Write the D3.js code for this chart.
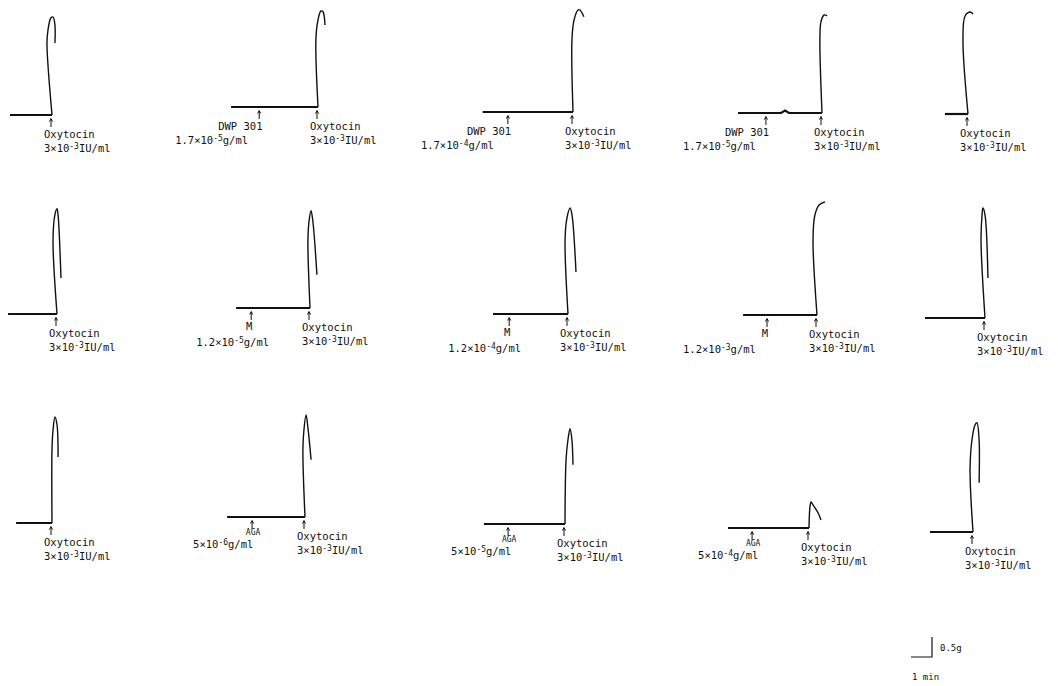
<!DOCTYPE html>
<html>
<head>
<meta charset="utf-8">
<script src="https://cdn.jsdelivr.net/npm/d3@7"></script>
<style>
  body { margin: 0; background: #fff; }
  text, tspan { font-family: "DejaVu Sans Mono", "Liberation Mono", monospace; fill: #111; }
</style>
</head>
<body>
<div id="chart"></div>
<script>
// trace data: time in min relative to oxytocin, tension in g above baseline
const baseT = [
  [-2.0, 0], [-4.14, 0], [-4.3, 0], [-4.0, -1.95, -1.76, -1.57, 0], [-1.1, 0],
  [-2.33, 0], [-3.52, 0], [-3.57, 0], [-3.52, 0], [-2.86, 0],
  [-1.71, 0], [-3.71, 0], [-3.86, 0], [-3.86, 0], [-2.05, 0]
];
const baseG = [
  [0, 0], [0, 0], [0, 0], [0, 0, 0.06, 0, 0], [0, 0],
  [0, 0], [0, 0], [0, 0], [0, 0], [0, 0],
  [0, 0], [0, 0], [0, 0], [0, 0], [0, 0]
];
const respT = [
  [0, -0.24, -0.19, -0.05, 0.05, 0.14, 0.14],
  [0, -0.1, 0, 0.14, 0.24, 0.33],
  [0, -0.05, 0.05, 0.24, 0.33, 0.52],
  [0, -0.1, -0.05, 0.1, 0.24],
  [0, -0.24, -0.14, 0.1, 0.24],
  [0, -0.19, -0.1, 0, 0.05, 0.19],
  [0, -0.1, -0.05, 0.05, 0.14, 0.33],
  [0, -0.14, -0.05, 0.1, 0.19, 0.38],
  [0, -0.19, -0.1, 0.1, 0.38],
  [0, -0.19, -0.14, -0.1, 0, 0.14],
  [0, 0, 0.05, 0.14, 0.24, 0.29],
  [0, -0.1, -0.05, 0.05, 0.14, 0.29],
  [0, 0.05, 0.14, 0.24, 0.33, 0.38],
  [0, 0.05, 0.1, 0.19, 0.43, 0.57],
  [0, -0.14, -0.05, 0.1, 0.19, 0.29, 0.29]
];
const respG = [
  [0, 1.8, 2.13, 2.43, 2.45, 2.25, 1.8],
  [0, 1.68, 2.18, 2.4, 2.38, 2.05],
  [0, 1.8, 2.3, 2.55, 2.55, 2.38],
  [0, 1.83, 2.28, 2.45, 2.43],
  [0, 1.85, 2.45, 2.55, 2.5],
  [0, 1.85, 2.48, 2.63, 2.48, 0.9],
  [0, 1.7, 2.15, 2.43, 2.15, 0.83],
  [0, 1.85, 2.4, 2.65, 2.48, 1.05],
  [0, 1.88, 2.5, 2.75, 2.83],
  [0, 1.95, 2.58, 2.75, 2.58, 1.0],
  [0, 1.83, 2.33, 2.65, 2.45, 1.65],
  [0, 1.68, 2.18, 2.55, 2.23, 1.43],
  [0, 1.6, 2.1, 2.38, 2.1, 1.48],
  [0, 0.55, 0.65, 0.58, 0.38, 0.2],
  [0, 1.55, 2.3, 2.68, 2.73, 2.3, 1.23]
];
// pretreatment agents
const agentName = ["", "DWP 301", "DWP 301", "DWP 301", "", "", "M", "M", "M", "", "", "AGA", "AGA", "AGA", ""];
const agentMant = ["", "1.7", "1.7", "1.7", "", "", "1.2", "1.2", "1.2", "", "", "5", "5", "5", ""];
const agentExp = ["", "-5", "-4", "-5", "", "", "-5", "-4", "-3", "", "", "-6", "-5", "-4", ""];
const agentTime = [null, -2.8, -3.1, -2.67, null, null, -2.8, -2.8, -2.38, null, null, -2.52, -2.71, -2.71, null];
const oxyName = "Oxytocin", oxyMant = "3", oxyExp = "-3", oxyUnit = "IU/ml";
const scaleMin = 1, scaleG = 0.5;

// layout: panel origin (oxytocin point) and agent dose label offset
const origins = [
  [52, 115], [318, 107], [573, 112], [822, 113], [968, 114],
  [57, 314], [310, 308], [568, 314], [817, 315], [985, 318],
  [52, 523], [305, 517], [565, 524], [809, 528], [973, 532]
];
const doseDx = [0, -84, -87, -83, 0, 0, -55, -61, -84, 0, 0, -59, -57, -54, 0];

const width = 1058, height = 686;
const x = d3.scaleLinear().domain([0, 1]).range([0, 21]);   // 1 min = 21 px
const y = d3.scaleLinear().domain([0, 1]).range([0, -40]);  // 1 g = 40 px

const svg = d3.select("#chart").append("svg")
  .attr("width", width)
  .attr("height", height);

const line = d3.line().x(d => x(d[0])).y(d => y(d[1]));
const curve = d3.line().x(d => x(d[0])).y(d => y(d[1])).curve(d3.curveCatmullRom.alpha(0.5));

function arrow(g, ax) {
  g.append("line").attr("x1", ax).attr("x2", ax).attr("y1", 4).attr("y2", 12)
    .attr("stroke", "#111").attr("stroke-width", 1);
  g.append("path").attr("d", `M${ax - 1.5},${6.5}L${ax},${3.5}L${ax + 1.5},${6.5}`)
    .attr("fill", "none").attr("stroke", "#111").attr("stroke-width", 1);
}

function expText(g, tx, ty, mant, exp, unit) {
  const t = g.append("text").attr("x", tx).attr("y", ty).attr("font-size", 10.5);
  t.append("tspan").attr("fill", "#111").text(mant + "×10");
  t.append("tspan").attr("dy", -3).attr("font-size", 8).attr("fill", "#111").text(exp);
  t.append("tspan").attr("dy", 3).attr("fill", "#111").text(unit);
  return t;
}

origins.forEach(function(o, i) {
  const g = svg.append("g").attr("transform", `translate(${o[0]},${o[1]})`);

  g.append("path")
    .attr("d", line(baseT[i].map((t, k) => [t, baseG[i][k]])))
    .attr("fill", "none").attr("stroke", "#111").attr("stroke-width", 2.2);

  g.append("path")
    .attr("d", curve(respT[i].map((t, k) => [t, respG[i][k]])))
    .attr("fill", "none").attr("stroke", "#111").attr("stroke-width", 1.4)
    .attr("stroke-linejoin", "round");

  // oxytocin marker + label
  const ox = x(0) - 1;
  arrow(g, ox);
  g.append("text").attr("x", ox - 7).attr("y", 23).attr("font-size", 10.5).text(oxyName);
  expText(g, ox - 7, 37, oxyMant, oxyExp, oxyUnit);

  // agent marker + label
  if (agentTime[i] !== null) {
    const ax = x(agentTime[i]);
    arrow(g, ax);
    if (agentName[i] === "DWP 301") {
      g.append("text").attr("x", ax - 41).attr("y", 23).attr("font-size", 10.5).text(agentName[i]);
      expText(g, ax + doseDx[i], 37, agentMant[i], agentExp[i], "g/ml");
    } else if (agentName[i] === "M") {
      g.append("text").attr("x", ax - 2).attr("y", 22).attr("font-size", 10.5)
        .attr("text-anchor", "middle").text(agentName[i]);
      expText(g, ax + doseDx[i], 38, agentMant[i], agentExp[i], "g/ml");
    } else {
      g.append("text").attr("x", ax + 1).attr("y", 18).attr("font-size", 8)
        .attr("text-anchor", "middle").text(agentName[i]);
      expText(g, ax + doseDx[i], 31, agentMant[i], agentExp[i], "g/ml");
    }
  }
});

// scale bar
const sb = svg.append("g").attr("transform", "translate(932,657)");
sb.append("path")
  .attr("d", line([[-scaleMin, 0], [0, 0], [0, scaleG]]))
  .attr("fill", "none").attr("stroke", "#111").attr("stroke-width", 1.2);
sb.append("text").attr("x", 8).attr("y", -6).attr("font-size", 9).text(scaleG + "g");
sb.append("text").attr("x", x(-scaleMin) + 1).attr("y", 23).attr("font-size", 9).text(scaleMin + " min");
</script>
</body>
</html>
